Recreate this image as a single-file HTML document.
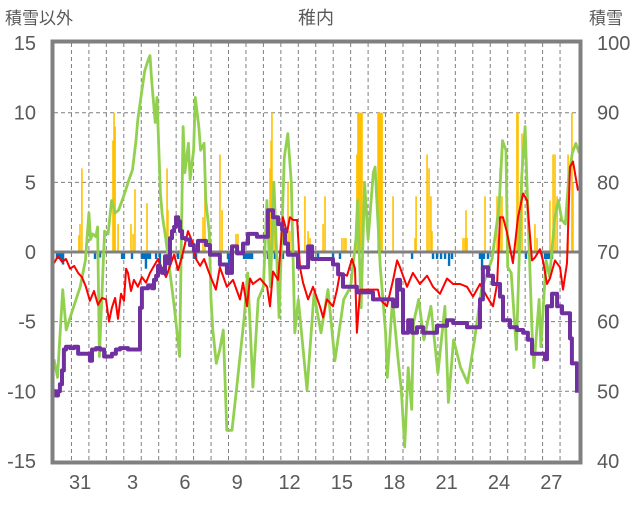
<!DOCTYPE html>
<html><head><meta charset="utf-8"><style>
body{margin:0;background:#fff;}
svg text{font-family:"Liberation Sans","Noto Sans CJK JP",sans-serif;fill:#595959;}
</style></head><body>
<svg id="c" width="636" height="501" viewBox="0 0 636 501">
<text x="316" y="24" font-size="18" text-anchor="middle">稚内</text>
<text x="5" y="24" font-size="17">積雪以外</text>
<text x="589" y="24" font-size="17">積雪</text>
<g id="grid"></g>
<g id="bars"></g>
<g id="lines"></g>
<g id="axes"></g>
</svg>
<script>
const xLabels=["31","3","6","9","12","15","18","21","24","27"];
const xLabelDays=[1,4,7,10,13,16,19,22,25,28];
const leftTicks=[15,10,5,0,-5,-10,-15];
const rightTicks=[100,90,80,70,60,50,40];
const precip=[[1.43,1.2],[1.49,2],[1.6,6],[3.38,8],[3.44,10],[3.5,9],[3.67,2],[4.41,2],[4.53,1.3],[4.64,4.5],[5.33,3.5],[6.48,6],[6.53,3],[8.54,2.5],[8.65,4.7],[9.51,7],[9.63,3],[10.43,1.3],[10.54,1.3],[12.38,6],[12.44,8],[12.49,10],[12.61,2],[13.41,5],[13.52,1.5],[14.38,4],[14.56,1.5],[14.67,1],[15.42,2],[15.53,4],[16.5,1],[16.62,1],[16.73,1],[17.36,7],[17.42,10],[17.48,10],[17.54,10],[17.59,10],[17.65,10],[17.71,1.5],[18.57,10],[18.62,10],[18.68,10],[18.74,10],[18.8,10],[19.43,4],[20.69,1],[20.75,4],[21.38,7],[21.49,6],[21.6,4],[21.66,1.5],[23.44,1],[23.55,1],[23.61,3],[23.67,1],[24.7,4],[25.39,4],[25.56,6],[25.67,4],[26.53,10],[26.59,10],[26.65,3],[26.7,2],[26.82,8.5],[27.56,2],[27.68,1],[28.42,3.7],[28.6,7],[28.71,7],[28.83,4],[29.46,7],[29.68,10],[29.74,5]];
const negBars=[[0.17,-0.5],[0.29,-0.5],[0.4,-0.6],[0.52,-0.9],[2.35,-0.5],[2.64,-0.4],[3.9,-0.5],[4.01,-0.5],[4.47,-0.5],[5.04,-0.5],[5.16,-0.5],[5.27,-1.2],[5.39,-0.5],[5.5,-0.5],[5.85,-0.5],[6.07,-1.2],[7.11,-0.5],[7.34,-0.5],[8.02,-0.5],[8.14,-0.5],[9.97,-0.5],[10.03,-1.5],[10.14,-0.8],[10.89,-0.5],[11.0,-0.5],[11.12,-0.5],[11.23,-0.5],[11.35,-0.5],[12.26,-0.5],[12.66,-0.5],[13.12,-0.5],[13.93,-0.5],[14.56,-0.5],[15.13,-0.5],[15.99,-0.5],[16.39,-0.5],[20.52,-0.5],[21.72,-0.5],[21.95,-0.5],[22.18,-0.5],[22.41,-0.5],[22.64,-1.0],[22.81,-0.5],[24.41,-0.5],[24.53,-1.3],[24.64,-0.5],[24.87,-0.5],[27.05,-0.5],[28.14,-0.5],[28.25,-0.5],[28.37,-0.5],[28.54,-0.5]];
const greenSeries=[[0,-7.7],[0.2,-9],[0.5,-2.7],[0.7,-5.6],[1.0,-4.4],[1.5,-2.5],[1.8,-0.6],[2.0,2.8],[2.1,0.9],[2.2,1.3],[2.4,1.1],[2.5,1.8],[2.6,-7.5],[2.9,1.5],[3.1,1.3],[3.3,3.7],[3.5,2.8],[3.7,3],[3.9,3.7],[4.1,4.4],[4.3,5.2],[4.5,5.9],[4.7,8],[4.8,9.5],[5.0,11.3],[5.2,13],[5.4,13.8],[5.5,14.1],[5.6,12.3],[5.8,9.3],[5.9,11.1],[6.1,4.2],[6.2,2.7],[6.4,1.0],[6.7,-2],[6.9,-4],[7.2,-7.5],[7.4,9],[7.5,5.7],[7.7,7.8],[7.8,5.2],[8.0,7.3],[8.1,11.1],[8.3,9],[8.4,7.3],[8.6,7.8],[8.7,3.7],[8.9,1.4],[9.0,-3.4],[9.1,-5.6],[9.3,-8],[9.5,-7],[9.7,-5.6],[9.9,-12.8],[10.2,-12.8],[10.5,-9.4],[10.9,-4.7],[11.1,-1.5],[11.4,-9.7],[11.7,-3.4],[12.0,-2.5],[12.2,3.7],[12.4,-2.5],[12.6,5],[12.9,-4.7],[13.2,6.8],[13.4,8.5],[13.6,5],[13.8,-5.8],[14.0,-3.4],[14.5,-9.9],[14.9,-3],[15.3,-5.8],[15.7,-2.7],[16.1,-7.8],[16.6,-3.4],[17.0,-2.5],[17.3,0.9],[17.4,3.7],[17.6,-4],[17.8,5],[18.0,0.9],[18.3,5.7],[18.4,6.1],[18.7,-1.1],[19.0,-5.8],[19.1,-9],[19.4,-3.4],[19.7,-7.5],[19.9,-9.9],[20.1,-14],[20.3,-8.3],[20.5,-11.3],[20.6,-5.1],[20.9,-3.4],[21.2,-6.3],[21.6,-3.9],[22.0,-8.7],[22.4,-3.9],[22.6,-10.8],[22.9,-6.3],[23.3,-8.3],[23.7,-9.4],[24.1,-6.3],[24.5,-2.7],[25.1,-0.5],[25.5,3.2],[25.7,8],[25.9,7.3],[26.0,-1.1],[26.2,-1.5],[26.5,-7],[26.8,5.4],[27.0,9],[27.2,1.4],[27.4,-5.8],[27.5,-8.3],[27.8,-3.4],[27.9,-6.8],[28.2,-0.6],[28.4,-1.8],[28.7,2.5],[28.9,3.7],[29.1,2.3],[29.3,2],[29.5,5.4],[29.7,7.1],[29.9,7.8],[30.1,7.1]];
const redSeries=[[0,-0.8],[0.23,-0.3],[0.46,-0.7],[0.69,-0.5],[0.92,-1.2],[1.15,-1.0],[1.38,-1.5],[1.6,-1.8],[1.83,-2.5],[2.06,-3.5],[2.29,-2.8],[2.52,-3.8],[2.75,-3.3],[2.98,-3.4],[3.15,-5.0],[3.32,-4.0],[3.5,-3.3],[3.67,-4.8],[3.84,-3.0],[4.01,-3.5],[4.13,-1.2],[4.24,-1.5],[4.41,-2.8],[4.58,-2.0],[4.81,-2.5],[5.04,-1.8],[5.27,-2.2],[5.5,-1.5],[5.73,-1.0],[5.96,-0.5],[6.19,-1.2],[6.42,-1.8],[6.65,-1.0],[6.88,-0.2],[7.11,-1.3],[7.34,-0.3],[7.68,1.5],[7.91,0.8],[8.14,-0.5],[8.37,-1.0],[8.6,-0.5],[8.83,-1.3],[9.05,-2.0],[9.28,-2.7],[9.51,-1.1],[9.91,-2.5],[10.26,-2],[10.66,-3.4],[10.83,-2.2],[11.06,-3.9],[11.23,-1.9],[11.4,-2.3],[11.81,-1.9],[12.21,-2.5],[12.38,-3.9],[12.55,-1.4],[12.84,-2],[13.12,2.5],[13.35,1.4],[13.52,2.5],[13.7,2.3],[13.93,2.3],[14.1,-1.1],[14.27,-2.2],[14.56,-3.4],[14.84,-2.5],[15.24,-3.9],[15.42,-4.7],[15.64,-3.4],[15.99,-3.9],[16.22,-2.7],[16.39,-1.5],[16.79,-1.7],[17.08,-0.5],[17.25,-1.2],[17.36,-5.8],[17.54,-2.7],[17.94,-2.7],[18.28,-2.7],[18.57,-2.7],[18.68,-3.4],[19.08,-3.9],[19.43,-2],[19.66,-0.6],[19.83,-1.1],[20.23,-2.5],[20.57,-1.5],[20.97,-2.3],[21.38,-1.7],[21.72,-2.5],[22.12,-3.0],[22.52,-1.9],[22.87,-2.3],[23.27,-2.3],[23.67,-2.5],[24.01,-3.2],[24.41,-2.3],[24.81,-3.2],[25.16,-3.9],[25.39,-2.3],[25.56,2.5],[25.73,2.5],[25.96,1.4],[26.3,-0.8],[26.59,2.5],[26.88,4.2],[27.11,3.7],[27.39,-0.6],[27.56,-0.4],[27.85,0.2],[28.02,-0.6],[28.25,-2.3],[28.42,-1.9],[28.71,-0.6],[29.0,-1.1],[29.17,-2.7],[29.4,-0.8],[29.57,6.1],[29.74,6.5],[30.03,4.4]];
const snowDepth=[[0,50],[0.11,49.4],[0.23,50],[0.34,51],[0.46,53],[0.57,56],[0.69,56.4],[0.92,56.2],[1.15,56.4],[1.38,55.4],[1.6,55.4],[1.83,55.4],[2.06,54.4],[2.18,56],[2.41,56.2],[2.64,56],[2.87,55],[3.09,55],[3.32,55.4],[3.55,56],[3.78,56.2],[4.01,56.2],[4.24,56],[4.47,56],[4.7,56],[4.93,62],[5.04,64.8],[5.39,65.2],[5.62,64.8],[5.73,66],[5.85,66.6],[5.96,68],[6.07,67.6],[6.19,67],[6.36,69.4],[6.53,68.4],[6.65,72],[6.76,73],[6.88,73.6],[6.99,75],[7.11,74.4],[7.22,73],[7.34,72],[7.56,71.8],[7.79,71],[8.02,70.2],[8.25,71.6],[8.48,71.6],[8.71,71],[8.94,69.6],[9.51,68.2],[9.91,67],[10.2,70.8],[10.49,69.8],[10.83,71.2],[11.12,72.6],[11.4,72.6],[11.63,72.2],[11.98,72.2],[12.26,76],[12.55,75],[12.84,74],[13.07,73.2],[13.24,71.2],[13.41,69.6],[13.7,69.6],[13.98,67.8],[14.27,67.8],[14.56,70.8],[14.79,69],[15.24,69],[15.64,69],[15.99,68.2],[16.28,66.8],[16.56,65],[17.13,65],[17.36,64.2],[17.94,64.2],[18.28,63.2],[19.08,63.2],[19.43,62.2],[19.66,66],[19.83,64.6],[20.0,58.4],[20.29,60.2],[20.52,58.4],[20.8,59.2],[21.15,58.4],[21.55,58.4],[21.95,59.4],[22.52,60.2],[22.87,59.8],[23.44,59.8],[23.67,59.2],[24.24,59.2],[24.41,63.2],[24.58,67.8],[24.87,66.6],[25.16,65.4],[25.56,63.6],[25.73,60.2],[26.13,59.2],[26.53,58.8],[26.88,58.4],[27.16,57.4],[27.39,55.4],[28.02,55.4],[28.14,54.6],[28.25,62.2],[28.54,64],[28.83,62.2],[29.11,61.2],[29.4,61.2],[29.57,57.6],[29.68,54],[29.97,49.8]];

const NS='http://www.w3.org/2000/svg';
const X0=54,DW=17.45,PL=54,PR=579,PT=43,PB=461;
function xs(d){return X0+d*DW;}
function yL(v){return 252-v*13.93;}
function yR(cm){return yL((cm-70)/2);}
function mk(tag,attrs,parent){const e=document.createElementNS(NS,tag);for(const k in attrs)e.setAttribute(k,attrs[k]);parent.appendChild(e);return e;}
const grid=document.getElementById('grid'),bars=document.getElementById('bars'),lines=document.getElementById('lines'),axes=document.getElementById('axes');

for(let k=1;k<=29;k++){
  const g=mk('line',{x1:xs(k),x2:xs(k),y1:PT,y2:PB,stroke:'#7f7f7f','stroke-width':1,'stroke-dasharray':'4,3'},grid);
  
  
}
leftTicks.forEach(v=>{
  if(v!==15&&v!==-15&&v!==0){
    const g=mk('line',{x1:PL,x2:PR,y1:yL(v),y2:yL(v),stroke:'#7f7f7f','stroke-width':1,'stroke-dasharray':'4,3'},grid);
    
    
  }
  const t=mk('text',{x:36,y:yL(v)+7,'font-size':20,'text-anchor':'end'},axes);
  t.textContent=v;
  
  
});
rightTicks.forEach(cm=>{
  const t=mk('text',{x:597,y:yR(cm)+7,'font-size':20},axes);
  t.textContent=cm;
  
  
});
xLabels.forEach((l,i)=>{
  const t=mk('text',{x:xs(xLabelDays[i]+0.5),y:489,'font-size':20,'text-anchor':'middle'},axes);
  t.textContent=l;
  
  
});
precip.forEach(p=>{
  const r=mk('rect',{x:xs(p[0])-0.8,y:yL(p[1]),width:1.6,height:yL(0)-yL(p[1]),fill:'#FFC000'},bars);
  
  
});
negBars.forEach(p=>{
  const r=mk('rect',{x:xs(p[0])-1.2,y:yL(0),width:2.4,height:yL(p[1])-yL(0),fill:'#0070C0'},bars);
  
  
});
const zl=mk('line',{x1:PL,x2:PR,y1:yL(0),y2:yL(0),stroke:'#808080','stroke-width':3},bars);


function poly(data,fy,color,w,name,step){
  const pts=[];
  data.forEach((p,i)=>{
    if(step&&i>0){pts.push(xs(p[0]).toFixed(1)+','+fy(data[i-1][1]).toFixed(1));}
    pts.push(xs(p[0]).toFixed(1)+','+fy(p[1]).toFixed(1));
  });
  const e=mk('polyline',{points:pts.join(' '),fill:'none',stroke:color,'stroke-width':w,'stroke-linejoin':'round'},lines);
  
  
}
poly(greenSeries,yL,'#92D050',2.8,'green-series-line',false);
poly(redSeries,yL,'#FF0000',2,'red-series-line',false);
poly(snowDepth,yR,'#7030A0',4,'snow-depth-line',true);
const fr=mk('rect',{x:PL-1.5,y:PT-1.5,width:PR-PL+3,height:PB-PT+3,fill:'none',stroke:'#808080','stroke-width':4},axes);


</script>
</body></html>
